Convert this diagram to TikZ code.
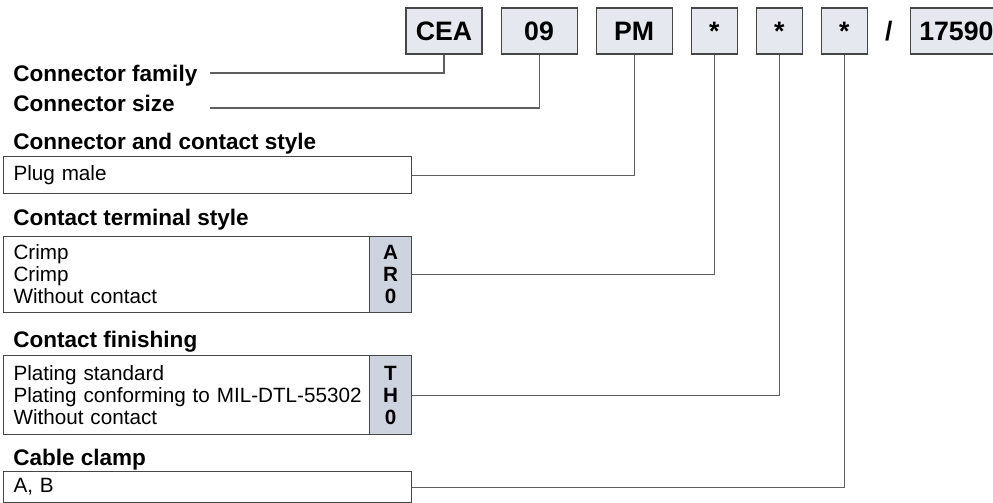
\documentclass[tikz,border=0pt]{standalone}
\usepackage{fontspec}
\setmainfont{Liberation Sans}
\usepackage{xcolor}
\usepackage{tikz}
\usetikzlibrary{positioning, calc}
\definecolor{codefill}{RGB}{230, 232, 240}
\definecolor{colfill}{RGB}{205, 211, 223}
\definecolor{framegray}{RGB}{70, 70, 70}
\definecolor{linkgray}{RGB}{95, 95, 95}

\begin{document}
\begin{tikzpicture}[x=0.75pt, y=-0.75pt, node distance=13.5pt,
    every node/.style={font=\fontsize{15.5}{16.5}\selectfont},
    codebox/.style={draw=framegray, fill=codefill, line width=0.8pt, minimum width=57pt, minimum height=34.5pt, inner sep=0pt, text height=14pt, text depth=0pt, font=\fontsize{20}{24}\selectfont\bfseries},
    starbox/.style={codebox, minimum width=34.5pt},
    heading/.style={anchor=base west, inner sep=0pt, font=\fontsize{16.9}{19}\selectfont\bfseries},
    optbox/.style={draw=framegray, fill=white, line width=0.8pt, anchor=north west, text width=291pt, inner xsep=7.5pt, inner ysep=0pt, align=left},
    codecol/.style={draw=framegray, fill=colfill, line width=0.8pt, anchor=north east, minimum width=31.5pt, inner sep=0pt, align=center, font=\fontsize{15.5}{16.5}\selectfont\bfseries},
    link/.style={draw=linkgray, line width=0.8pt}]
        \clip (0,0) rectangle (993,503);

        \node[codebox] (fam) at (444,31) {CEA};
        \node[codebox, right=of fam] (sz) {09};
        \node[codebox, right=of sz] (style) {PM};
        \node[starbox, right=of style] (term) {*};
        \node[starbox, right=of term] (finish) {*};
        \node[starbox, right=of finish] (clampcode) {*};
        \node[codebox, minimum width=69pt, right=31.5pt of clampcode] (ref) {17590};
        \node[inner sep=0pt, text height=14pt, text depth=0pt, font=\fontsize{20}{24}\selectfont\bfseries] (slash) at ($(clampcode.east)!0.5!(ref.west)$) {/};

        \node[heading] (famlabel) at (13,82) {Connector family};
        \node[heading] (szlabel) at (13,112) {Connector size};
        \node[heading] (stylelabel) at (13,149) {Connector and contact style};
        \node[heading] (termlabel) at (13,225) {Contact terminal style};
        \node[heading] (finlabel) at (13,347) {Contact finishing};
        \node[heading] (clamplabel) at (13,465) {Cable clamp};

        \node[optbox, minimum height=27.75pt] (plug) at (3,156) {Plug male};
        \node[optbox, minimum height=57pt] (termopt) at (3,236) {Crimp\\Crimp\\Without contact};
        \node[codecol, minimum height=57pt] (termcol) at (termopt.north east) {A\\R\\0};
        \node[optbox, minimum height=59.25pt] (finopt) at (3,355) {Plating standard\\Plating conforming to MIL-DTL-55302\\Without contact};
        \node[codecol, minimum height=59.25pt] (fincol) at (finopt.north east) {T\\H\\0};
        \node[optbox, minimum height=23.25pt] (clamp) at (3,471) {A, B};

        \coordinate (famend) at (210,73);
        \coordinate (szend) at (210,108);

        \draw[link] (fam.south) |- (famend);
        \draw[link] (sz.south) |- (szend);
        \draw[link] (style.south) |- (plug.east);
        \draw[link] (term.south) |- (termcol.east);
        \draw[link] (finish.south) |- (fincol.east);
        \draw[link] (clampcode.south) |- (clamp.east);
    \end{tikzpicture}
\end{document}
